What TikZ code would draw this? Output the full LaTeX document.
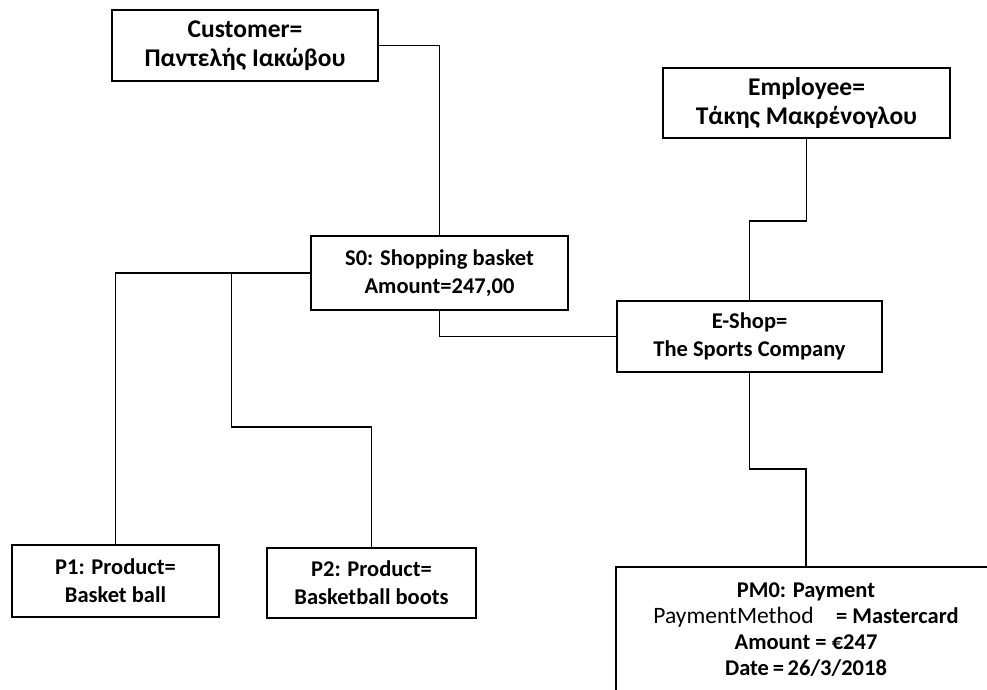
\documentclass[tikz,border=0pt]{standalone}
\usepackage{fontspec}
\setmainfont{Carlito}
\begin{document}
\begin{tikzpicture}[x=1pt,y=-1pt,
  box/.style={draw, line width=1.6pt, align=center, inner sep=0pt,
    font=\fontsize{22.5}{28}\selectfont\bfseries},
  bigbox/.style={box, font=\fontsize{25.5}{29}\selectfont\bfseries},
  link/.style={line width=1.4pt}]
\useasboundingbox (0,0) rectangle (987,690);
\clip (0,0) rectangle (987,690);

% objects
\node[bigbox, minimum width=266pt, minimum height=71pt] (cust) at (245,45.5)
  {Customer=\\Παντελής Ιακώβου};
\node[bigbox, minimum width=287pt, minimum height=70pt] (emp) at (806.5,103)
  {Employee=\\Τάκης Μακρένογλου};
\node[box, minimum width=257pt, minimum height=74pt] (s0) at (439.5,273)
  {S0: Shopping basket\\Amount=247,00};
\node[box, minimum width=265pt, minimum height=71pt] (shop) at (749.5,336.5)
  {E-Shop=\\The Sports Company};
\node[box, minimum width=207pt, minimum height=72pt] (p1) at (115.5,581)
  {P1: Product=\\Basket ball};
\node[box, minimum width=209pt, minimum height=70pt] (p2) at (371.5,583)
  {P2: Product=\\Basketball boots};
\node[box, font=\fontsize{22.5}{26}\selectfont\bfseries,
  minimum width=380pt, minimum height=126pt] (pm) at (806,630)
  {PM0: Payment\\{\mdseries\fontsize{23.5}{26}\selectfont PaymentMethod}\quad= Mastercard\\Amount = €247\\Date\,=\,26/3/2018};

% junction points
\coordinate (b1) at (231.5,273);
\coordinate (b2) at (231.5,427);
\coordinate (ej) at (749.5,221);
\coordinate (pj) at (749.5,469);

% links
\draw[link] (cust.east) -| (s0.north);
\draw[link] (emp.south) |- (ej) -- (shop.north);
\draw[link] (s0.south) |- (shop.west);
\draw[link] (s0.west) -| (p1.north);
\draw[link] (b1) -- (b2) -| (p2.north);
\draw[link] (shop.south) -- (pj) -| (pm.north);
\end{tikzpicture}
\end{document}
